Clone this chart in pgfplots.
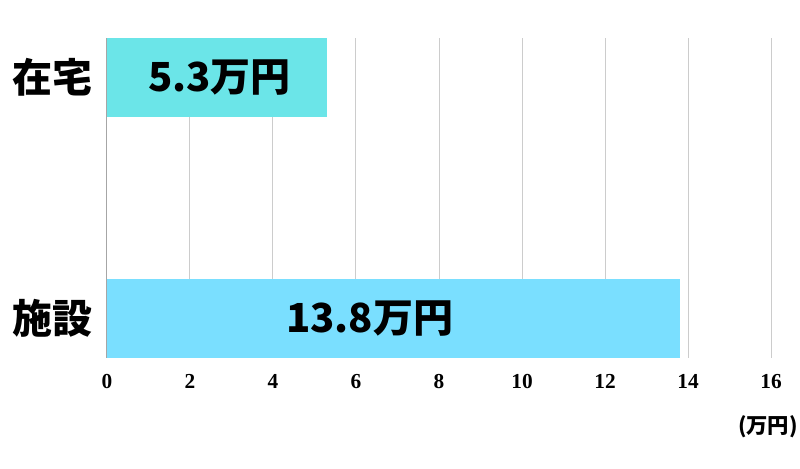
\documentclass[border=0pt]{standalone}
\usepackage{pgfplots}
\pgfplotsset{compat=1.18}
\usepackage{fontspec}
\setmainfont{Liberation Serif}
\newfontfamily\cjk{Noto Sans CJK JP}
\newfontfamily\tickfont{Liberation Serif}
\definecolor{barhome}{HTML}{6BE5E8}
\definecolor{barfac}{HTML}{7ADFFF}
\definecolor{gridgray}{HTML}{CCCCCC}
\begin{document}
\begin{tikzpicture}
  \begin{axis}[
      name=ax,
      xbar,
      scale only axis,
      width=498pt, height=240pt,
      xmin=0, xmax=16,
      ymin=-0.1636, ymax=1.1636,
      bar width=0.3277,
      bar shift=0pt,
      xtick={0,2,...,16},
      ytick={0,1},
      yticklabels={施設,在宅},
      major tick length=0pt,
      axis x line=bottom,
      axis y line=left,
      x axis line style={draw=none},
      y axis line style={draw=gray!70, line width=0.75pt, -},
      xmajorgrids,
      grid style={gridgray, line width=0.75pt},
      /pgf/number format/assume math mode=true,
      xticklabel style={font=\tickfont\bfseries\fontsize{16pt}{18pt}\selectfont, yshift=-9pt},
      yticklabel style={font=\cjk\bfseries\fontsize{30pt}{34pt}\selectfont, xshift=-7.5pt},
      clip=false,
    ]
    \addplot[draw=none, fill=barfac] coordinates {(13.8,0)};
    \addplot[draw=none, fill=barhome] coordinates {(5.3,1)};
    \node[font=\cjk\bfseries\fontsize{30pt}{34pt}\selectfont] at (axis cs:2.71,1) {5.3万円};
    \node[font=\cjk\bfseries\fontsize{30pt}{34pt}\selectfont] at (axis cs:6.33,0) {13.8万円};
    \node[font=\cjk\bfseries\fontsize{16pt}{18pt}\selectfont, anchor=east, inner sep=0pt]
      at ([xshift=20.25pt, yshift=-51.75pt]rel axis cs:1,0) {(万円)};
  \end{axis}
  \pgfresetboundingbox
  \path ([shift={(-80.25pt,-83.25pt)}]ax.south west) rectangle ([shift={(21.75pt,28.5pt)}]ax.north east);
\end{tikzpicture}
\end{document}
